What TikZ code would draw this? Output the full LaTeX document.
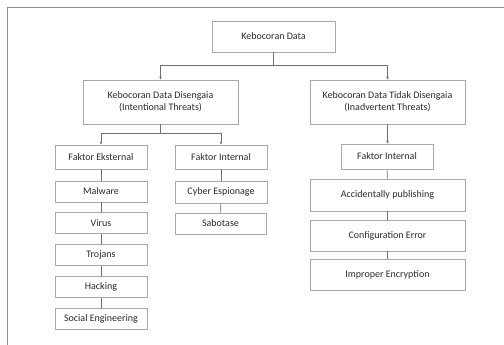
\documentclass[tikz,border=0pt]{standalone}
\usepackage{fontspec}
\setmainfont{Carlito}
\usetikzlibrary{arrows.meta}
\definecolor{boxline}{HTML}{A8A8A8}
\definecolor{conline}{HTML}{707070}
\definecolor{txt}{HTML}{2A2A2A}
\begin{document}
\begin{tikzpicture}[x=1pt,y=-1pt,
  box/.style={draw=boxline,line width=0.9pt,inner sep=0pt,align=center,
    text=txt,font=\fontsize{10}{12}\selectfont},
  conn/.style={draw=conline,line width=0.6pt},
  arr/.style={conn,-{Stealth[length=3pt,width=2.6pt]}}]
\useasboundingbox (0,0) rectangle (504,345);
\draw[draw=conline!80,line width=0.8pt] (504,7) -- (7,7) -- (7,345);
% top
\node[box,minimum width=123pt,minimum height=31pt] (top) at (273.5,36.5) {Kebocoran Data};
\node[box,minimum width=155pt,minimum height=44pt] (L1) at (160.5,102) {Kebocoran Data Disengaia\\(Intentional Threats)};
\node[box,minimum width=155pt,minimum height=44pt] (R1) at (387.5,102) {Kebocoran Data Tidak Disengaia\\(Inadvertent Threats)};
% left branch
\node[box,minimum width=92pt,minimum height=24pt] (FE) at (101,157) {Faktor Eksternal};
\node[box,minimum width=92pt,minimum height=24pt] (FI) at (221,157) {Faktor Internal};
\node[box,minimum width=92pt,minimum height=21pt] (mal) at (101,191.5) {Malware};
\node[box,minimum width=92pt,minimum height=21pt] (vir) at (101,223) {Virus};
\node[box,minimum width=92pt,minimum height=21pt] (tro) at (101,255) {Trojans};
\node[box,minimum width=92pt,minimum height=21pt] (hac) at (101,287) {Hacking};
\node[box,minimum width=92pt,minimum height=21pt] (soc) at (101,319) {Social Engineering};
\node[box,minimum width=92pt,minimum height=22pt] (cyb) at (221,192) {Cyber Espionage};
\node[box,minimum width=91pt,minimum height=21pt] (sab) at (220.5,223.5) {Sabotase};
% right branch
\node[box,minimum width=92pt,minimum height=25pt] (RFI) at (387,156.5) {Faktor Internal};
\node[box,minimum width=155pt,minimum height=32pt] (acc) at (387.5,195) {Accidentally publishing};
\node[box,minimum width=155pt,minimum height=31pt] (cfg) at (387.5,235.5) {Configuration Error};
\node[box,minimum width=155pt,minimum height=31pt] (imp) at (387.5,274.5) {Improper Encryption};
% connectors
\coordinate (j1) at (273.5,65);
\draw[conn] (top.south) -- (j1);
\draw[arr] (j1) -| (L1.north);
\draw[arr] (j1) -| (R1.north);
\coordinate (j2) at (160.5,133);
\draw[conn] (L1.south) -- (j2);
\draw[arr] (j2) -| (FE.north);
\draw[arr] (j2) -| (FI.north);
\draw[arr] (R1.south) -- (R1.south |- RFI.north);
\draw[conn] (FE) -- (mal);
\draw[conn] (mal) -- (vir);
\draw[conn] (vir) -- (tro);
\draw[conn] (tro) -- (hac);
\draw[conn] (hac) -- (soc);
\draw[conn] (FI) -- (cyb);
\draw[conn] (cyb) -- (sab);
\draw[conn] (RFI) -- (acc);
\draw[conn] (acc) -- (cfg);
\draw[conn] (cfg) -- (imp);
\end{tikzpicture}
\end{document}
